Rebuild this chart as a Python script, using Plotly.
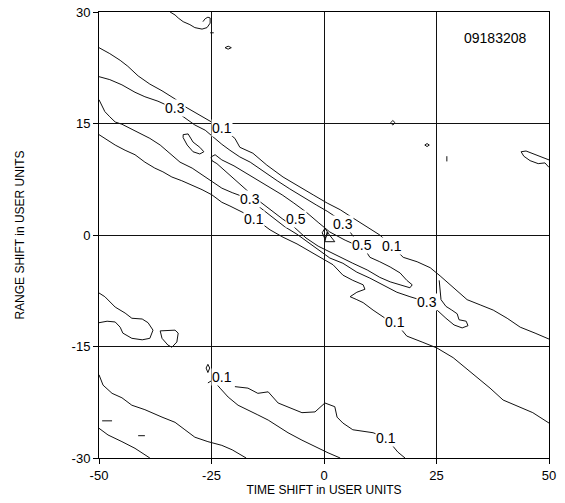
import plotly.graph_objects as go

# ---------------- data (x = time shift, y = range shift, in user units) -------------
x_ticks = [-50, -25, 0, 25, 50]
y_ticks = [-30, -15, 0, 15, 30]

# upper 0.1 contour
upper_01 = [(-50.0, 25.2), (-47.6, 24.4), (-45.3, 23.5), (-43.6, 22.7), (-41.3, 21.4), (-38.7, 20.3),
            (-36.0, 19.4), (-33.1, 18.3), (-30.7, 17.2), (-27.6, 16.1), (-24.9, 15.1), (-22.7, 14.4),
            (-19.8, 13.0), (-18.7, 11.8), (-15.8, 11.0), (-12.7, 9.4), (-9.1, 7.8), (-5.3, 6.5),
            (-2.4, 5.4), (0.7, 4.3), (3.6, 3.4), (6.4, 2.3), (9.6, 1.1), (12.4, 0.0), (15.1, -1.5),
            (17.6, -3.0), (20.7, -3.6), (23.6, -4.4), (25.8, -5.5), (28.7, -7.1), (31.8, -8.7),
            (34.7, -9.4), (37.6, -10.1), (40.7, -11.2), (43.6, -12.4), (46.9, -13.2), (50.0, -14.0)]

# upper 0.3 contour
upper_03 = [(-50.0, 21.3), (-47.6, 20.9), (-44.9, 20.2), (-42.0, 19.2), (-39.8, 18.6), (-36.9, 18.0),
            (-34.7, 17.4), (-30.9, 15.7), (-28.7, 14.8), (-26.4, 14.1), (-24.4, 13.0), (-22.7, 12.2),
            (-20.9, 11.4), (-18.7, 10.5), (-16.4, 9.8), (-13.6, 8.6), (-10.4, 7.3), (-7.6, 6.2),
            (-4.7, 5.1), (-1.6, 4.0), (0.7, 3.2), (2.7, 2.4), (4.2, 1.5), (5.8, 0.4), (7.1, -0.7)]

# 0.5 ridge contour (closed)
ridge_05 = [(8.4, -1.3), (10.2, -3.0), (12.4, -3.6), (14.7, -4.3), (16.9, -5.1), (18.4, -6.1),
            (19.6, -6.7), (19.1, -7.1), (16.9, -6.7), (14.7, -6.3), (12.4, -5.7), (9.6, -4.7),
            (6.4, -3.8), (3.6, -3.0), (1.3, -2.3), (-1.3, -1.5), (-4.0, -0.4), (-6.7, 1.1),
            (-9.3, 2.2), (-12.0, 3.4), (-14.7, 4.7), (-17.3, 6.1), (-19.8, 7.4), (-22.0, 8.6),
            (-23.8, 9.6), (-24.9, 10.0), (-25.1, 10.5), (-24.2, 10.8), (-22.7, 10.1), (-20.0, 9.3),
            (-17.3, 8.3), (-14.7, 7.3), (-12.0, 6.3), (-9.3, 5.4), (-6.7, 4.3), (-4.0, 3.1),
            (-1.3, 1.7), (1.3, 0.4), (4.7, -0.7), (6.2, -1.1), (8.4, -1.3)]

# lower 0.3 contour with its lobe near x=28
lower_03 = [(-50.0, 18.2), (-49.3, 17.4), (-48.7, 16.6), (-47.6, 15.9), (-46.4, 15.2), (-44.9, 14.9),
            (-43.6, 14.5), (-41.3, 13.7), (-38.7, 13.0), (-36.4, 12.1), (-34.2, 11.0), (-32.0, 9.8),
            (-29.3, 9.0), (-27.1, 8.1), (-24.9, 7.1), (-22.7, 6.3), (-20.4, 5.7), (-16.4, 4.8),
            (-13.8, 3.5), (-11.3, 2.3), (-8.7, 1.1), (-6.0, 0.1), (-3.1, -1.2), (-0.2, -2.4),
            (1.3, -3.1), (4.2, -3.8), (7.3, -5.0), (10.2, -5.8), (13.1, -6.7), (16.2, -7.7),
            (19.1, -8.3), (22.9, -9.0), (24.4, -9.7), (25.8, -10.5), (27.1, -11.2), (28.9, -12.1),
            (30.7, -12.5), (32.0, -12.2), (31.6, -11.6), (30.0, -11.4), (29.6, -10.6), (28.4, -10.1),
            (27.1, -9.6), (26.0, -8.7), (25.8, -7.4), (25.6, -6.1)]

# lower 0.1 contour
lower_01 = [(-50.0, 13.5), (-48.2, 12.8), (-46.4, 12.1), (-44.2, 11.4), (-42.0, 10.8), (-39.8, 9.8),
            (-37.6, 9.0), (-35.8, 8.5), (-33.8, 7.8), (-31.6, 7.3), (-29.3, 6.7), (-27.1, 6.1),
            (-24.9, 5.4), (-22.7, 4.4), (-20.9, 3.9), (-19.3, 3.4), (-15.6, 2.3), (-12.0, 0.7),
            (-9.1, -0.3), (-6.0, -1.2), (-3.1, -2.2), (-0.2, -3.2), (2.0, -4.0), (4.2, -5.4),
            (6.4, -6.1), (8.7, -6.7), (9.1, -7.3), (7.3, -7.7), (5.8, -8.3), (7.3, -8.7), (8.7, -9.1),
            (10.9, -10.1), (13.6, -11.2), (15.8, -11.7), (18.4, -13.6), (21.8, -14.4), (25.1, -15.2),
            (28.7, -16.5), (30.9, -17.6), (33.1, -18.6), (36.9, -20.6), (39.8, -22.2), (43.1, -23.1),
            (46.4, -23.9), (50.0, -25.3)]

# small closed islands and fragments
island_upper = [(-31.3, 13.5), (-30.2, 13.6), (-29.1, 12.5), (-27.6, 11.8), (-26.7, 11.2), (-27.6, 10.9),
                (-29.1, 11.2), (-30.4, 12.1), (-31.3, 13.1), (-31.3, 13.5)]
top_lobe = [(-34.2, 30.0), (-33.1, 29.6), (-32.4, 29.2), (-31.3, 28.7), (-29.8, 28.3), (-28.7, 27.9),
            (-27.1, 27.7), (-26.0, 27.9), (-25.3, 28.5), (-25.3, 29.2), (-25.8, 29.3), (-26.4, 29.1),
            (-26.9, 28.7)]
top_speck_a = [(-25.3, 27.2), (-24.5, 27.2)]
top_speck_b = [(-22.0, 25.2), (-21.3, 25.4), (-20.6, 25.2), (-21.3, 25.0), (-22.0, 25.2)]
mid_speck_a = [(14.8, 15.1), (15.3, 15.4), (15.8, 15.1), (15.3, 14.8), (14.8, 15.1)]
mid_speck_b = [(22.4, 12.1), (22.9, 12.3), (23.4, 12.1), (22.9, 11.9), (22.4, 12.1)]
mid_speck_c = [(27.3, 10.6), (27.3, 9.9)]
right_lobe = [(50.0, 10.1), (48.0, 10.6), (46.4, 10.9), (44.9, 11.3), (43.8, 11.2), (44.4, 10.6),
              (45.8, 10.0), (47.6, 9.6), (49.1, 9.7), (50.0, 9.1)]
peak_diamond = [(-0.4, 0.3), (0.2, 0.9), (0.9, 0.3), (0.2, -0.5), (-0.4, 0.3)]
peak_triangle = [(0.7, 0.4), (2.4, -0.9), (0.2, -0.9), (0.7, 0.4)]

left_lobe = [(-50.0, -7.8), (-48.7, -8.3), (-46.4, -9.7), (-44.2, -10.5), (-42.7, -11.2), (-40.4, -11.3),
             (-39.1, -11.8), (-38.0, -12.8), (-38.7, -13.9), (-40.4, -14.1), (-42.7, -13.9), (-44.7, -13.2),
             (-45.3, -12.4), (-46.4, -11.7), (-48.2, -11.6), (-50.0, -11.8)]
left_island = [(-36.4, -12.9), (-33.1, -12.8), (-32.4, -13.2), (-32.7, -14.4), (-33.8, -15.1),
               (-34.7, -14.8), (-36.0, -13.9), (-36.4, -12.9)]
low_left_a = [(-50.0, -18.8), (-49.1, -20.2), (-47.1, -21.3), (-44.9, -21.9), (-42.7, -22.9), (-39.8, -23.5),
              (-36.0, -24.5), (-33.1, -25.2), (-30.9, -26.2), (-28.7, -27.2), (-25.8, -27.8), (-22.7, -28.3),
              (-20.4, -28.9), (-18.2, -29.6), (-17.3, -30.0)]
low_left_b = [(-50.0, -26.0), (-48.0, -26.9), (-44.9, -27.8), (-42.0, -28.7), (-38.7, -30.0)]
low_dash_a = [(-49.3, -25.0), (-47.1, -25.0)]
low_dash_b = [(-41.3, -27.0), (-39.8, -27.0)]
low_diamond = [(-25.8, -17.4), (-25.4, -17.9), (-25.8, -18.5), (-26.2, -17.9), (-25.8, -17.4)]
tongue_b = [(-25.8, -19.9), (-24.7, -19.5), (-23.1, -20.6), (-21.3, -21.8), (-19.1, -22.9), (-16.9, -23.5),
            (-14.7, -24.2), (-12.4, -24.9), (-10.2, -25.8), (-8.0, -26.6), (-4.9, -27.6), (-2.0, -28.5),
            (0.9, -29.3), (3.6, -30.0)]
tongue_a = [(-19.8, -20.4), (-16.9, -20.6), (-14.7, -21.3), (-12.4, -21.1), (-10.2, -22.6), (-8.0, -23.1),
            (-4.9, -23.9), (-2.0, -23.8), (0.2, -22.6), (2.4, -23.1), (2.9, -24.5), (4.2, -25.3),
            (6.4, -26.2), (10.9, -26.6), (13.8, -27.3), (16.4, -29.2), (18.0, -30.0)]

contour_lines = [upper_01, upper_03, ridge_05, lower_03, lower_01, island_upper, top_lobe,
                 top_speck_a, top_speck_b, mid_speck_a, mid_speck_b, mid_speck_c, right_lobe,
                 peak_diamond, peak_triangle, left_lobe, left_island, low_left_a, low_left_b,
                 low_dash_a, low_dash_b, low_diamond, tongue_b, tongue_a]

# contour labels
label_text = ["0.3", "0.1", "0.3", "0.1", "0.5", "0.3", "0.5", "0.1", "0.3", "0.1", "0.1", "0.1"]
label_x = [-33.1, -22.7, -16.4, -15.6, -6.2, 4.2, 8.4, 15.1, 22.9, 15.8, -22.7, 13.8]
label_y = [17.1, 14.4, 4.8, 2.2, 2.2, 1.5, -1.3, -1.5, -9.0, -11.7, -19.1, -27.3]

plot_id = "09183208"
x_title = "TIME SHIFT in USER UNITS"
y_title = "RANGE SHIFT in USER UNITS"

FONT = "Liberation Sans, Arial, sans-serif"

# ---------------- figure -------------
fig = go.Figure()
for line in contour_lines:
    fig.add_trace(go.Scatter(x=[p[0] for p in line], y=[p[1] for p in line], mode="lines",
                             line=dict(color="#111111", width=1), hoverinfo="skip"))

for t, lx, ly in zip(label_text, label_x, label_y):
    fig.add_annotation(x=lx, y=ly, text=t, showarrow=False, bgcolor="white",
                       font=dict(family=FONT, size=14, color="black"), borderpad=0)

fig.add_annotation(x=38, y=26.5, text=plot_id, showarrow=False,
                   font=dict(family=FONT, size=14, color="black"))

axis_common = dict(showgrid=True, gridcolor="#111111", gridwidth=1, zeroline=False,
                   showline=True, linecolor="black", linewidth=1, mirror=True,
                   ticks="outside", ticklen=5, tickcolor="black",
                   tickfont=dict(family=FONT, size=13, color="black"),
                   automargin=False)

fig.update_layout(
    width=565, height=503,
    margin=dict(l=99, r=16, t=12, b=45),
    plot_bgcolor="white", paper_bgcolor="white",
    showlegend=False,
    xaxis=dict(range=[-50, 50], tickvals=x_ticks, ticktext=[str(v) for v in x_ticks],
               title=dict(text=x_title, standoff=4, font=dict(family=FONT, size=12, color="black")),
               **axis_common),
    yaxis=dict(range=[-30, 30], tickvals=y_ticks, ticktext=[str(v) for v in y_ticks],
               title=dict(text=y_title, standoff=44, font=dict(family=FONT, size=12, color="black")),
               **axis_common),
)

fig.write_html("out.html", config={"displayModeBar": False},
               post_script="document.body.style.margin='0';document.body.style.overflow='hidden';")
